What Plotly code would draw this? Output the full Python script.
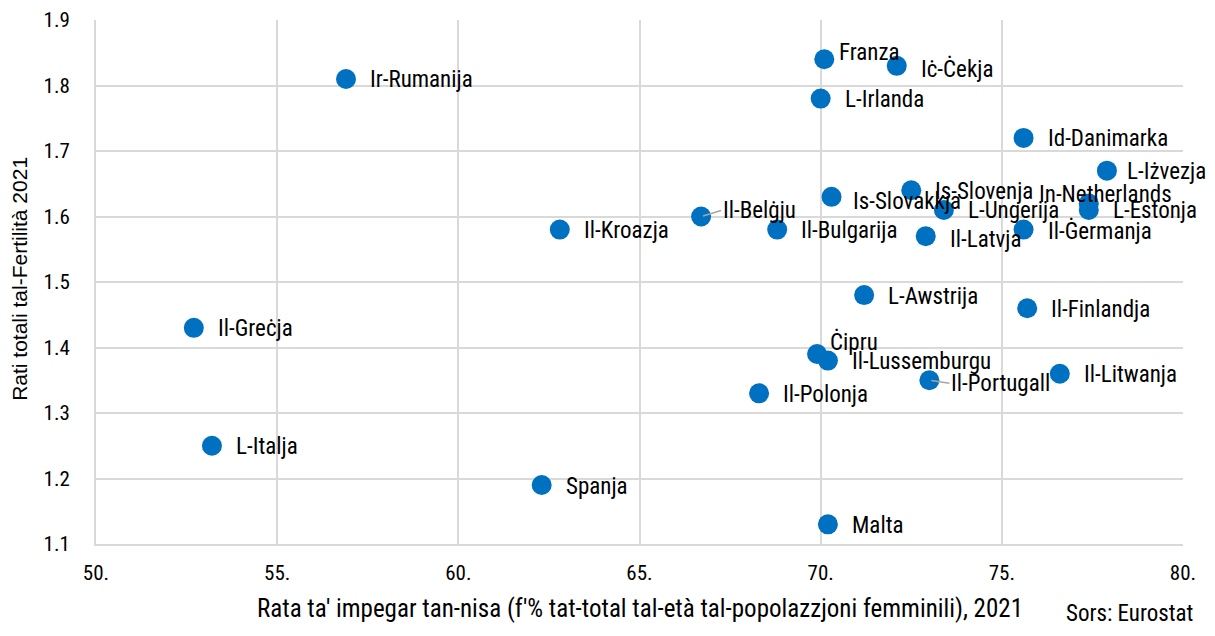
import plotly.graph_objects as go

countries = ['Ir-Rumanija', 'Franza', 'Iċ-Ċekja', 'L-Irlanda', 'Id-Danimarka', 'L-Iżvezja',
             'In-Netherlands', 'L-Estonja', 'Is-Slovenja', 'Is-Slovakkja', 'L-Ungerija',
             'Il-Belġju', 'Il-Kroazja', 'Il-Bulgarija', 'Il-Latvja', 'Il-Ġermanja',
             'L-Awstrija', 'Il-Finlandja', 'Il-Greċja', 'Ċipru', 'Il-Lussemburgu',
             'Il-Portugall', 'Il-Litwanja', 'Il-Polonja', 'L-Italja', 'Spanja', 'Malta']
employment = [56.9, 70.1, 72.1, 70.0, 75.6, 77.9,
              77.4, 77.4, 72.5, 70.3, 73.4,
              66.7, 62.8, 68.8, 72.9, 75.6,
              71.2, 75.7, 52.7, 69.9, 70.2,
              73.0, 76.6, 68.3, 53.2, 62.3, 70.2]
fertility = [1.81, 1.84, 1.83, 1.78, 1.72, 1.67,
             1.62, 1.61, 1.64, 1.63, 1.61,
             1.60, 1.58, 1.58, 1.57, 1.58,
             1.48, 1.46, 1.43, 1.39, 1.38,
             1.35, 1.36, 1.33, 1.25, 1.19, 1.13]

x_ticks = [50, 55, 60, 65, 70, 75, 80]
x_tick_labels = ['50.', '55.', '60.', '65.', '70.', '75.', '80.']
y_ticks = [1.1, 1.2, 1.3, 1.4, 1.5, 1.6, 1.7, 1.8, 1.9]

NARROW = 'Liberation Sans Narrow, Roboto Condensed, DejaVu Sans Condensed, sans-serif'
PLAIN = 'Liberation Sans, Arial, sans-serif'
BLUE = '#0070C0'
GRID = '#d9d9d9'

# pixel nudges for labels that would otherwise collide
label_shift = {
    'Franza': (13, 7),
    'Iċ-Ċekja': (22, -3),
    'L-Iżvezja': (18, -1),
    'In-Netherlands': (-52, 9),
    'Is-Slovakkja': (19, -5),
    'Il-Latvja': (22, -3),
    'Ċipru': (11, 12),
}
leader = {'Il-Belġju': (20, -6), 'Il-Portugall': (20, 3)}

fig = go.Figure()
fig.add_trace(go.Scatter(
    x=employment, y=fertility, mode='markers',
    marker=dict(color=BLUE, size=20, line=dict(width=0)),
    hoverinfo='text', text=countries, showlegend=False,
))

for name, xv, yv in zip(countries, employment, fertility):
    if name in leader:
        ax, ay = leader[name]
        fig.add_annotation(
            x=xv, y=yv, text=name, showarrow=True, arrowhead=0,
            arrowwidth=1.5, arrowcolor='#a6a6a6', ax=ax, ay=ay,
            xanchor='left', yanchor='middle', standoff=2,
            font=dict(family=NARROW, size=23, color='black'),
        )
    else:
        dx, dy = label_shift.get(name, (22, -1))
        fig.add_annotation(
            x=xv, y=yv, text=name, showarrow=False,
            xanchor='left', yanchor='middle', xshift=dx, yshift=dy,
            font=dict(family=NARROW, size=23, color='black'),
        )

# axis titles and source note
fig.add_annotation(
    text="Rata ta' impegar tan-nisa (f'% tat-total tal-età tal-popolazzjoni femminili), 2021",
    xref='paper', yref='paper', x=0.5, y=0, yshift=-64,
    xanchor='center', yanchor='middle', showarrow=False,
    font=dict(family=NARROW, size=25, color='black'),
)
fig.add_annotation(
    text='Rati totali tal-Fertilità 2021',
    xref='paper', yref='paper', x=0, y=0.506, xshift=-76, textangle=-90,
    xanchor='center', yanchor='middle', showarrow=False,
    font=dict(family=PLAIN, size=21, color='black'),
)
fig.add_annotation(
    text='Sors: Eurostat', xref='paper', yref='paper', x=1.011, y=0, yshift=-69,
    xanchor='right', yanchor='middle', showarrow=False,
    font=dict(family=NARROW, size=23, color='black'),
)

fig.update_layout(
    width=1199, height=620,
    margin=dict(l=88, r=24, t=12, b=84),
    plot_bgcolor='white', paper_bgcolor='white',
    font=dict(family=NARROW, size=21, color='black'),
    xaxis=dict(
        range=[50, 80], tickvals=x_ticks, ticktext=x_tick_labels,
        showgrid=True, gridcolor=GRID, gridwidth=1.5,
        showline=True, linecolor=GRID, linewidth=2,
        zeroline=False, ticks='', ticklabelstandoff=9, automargin=False,
        ticklabeloverflow='allow',
    ),
    yaxis=dict(
        range=[1.1, 1.9], tickvals=y_ticks, tickformat='.1f',
        showgrid=True, gridcolor=GRID, gridwidth=1.5,
        showline=True, linecolor=GRID, linewidth=2,
        zeroline=False, ticks='', ticklabelstandoff=20, automargin=False,
        ticklabeloverflow='allow',
    ),
)

fig.write_html('out.html')
